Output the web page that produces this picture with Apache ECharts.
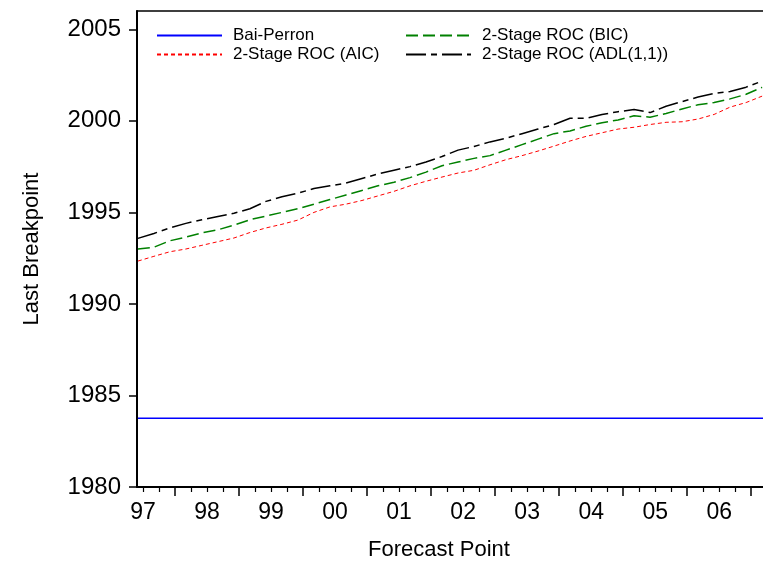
<!DOCTYPE html>
<html>
<head>
<meta charset="utf-8">
<title>Last Breakpoint</title>
<script src="https://cdn.jsdelivr.net/npm/echarts@6/dist/echarts.min.js"></script>
<style>
  html, body { margin: 0; padding: 0; background: #fff; }
  #chart { width: 763px; height: 576px; }
</style>
</head>
<body>
<div id="chart"></div>
<script>
// forecast points (decimal years, roughly quarterly)
const dates = [
  1997.42, 1997.67, 1997.92, 1998.17, 1998.42, 1998.67, 1998.92, 1999.17,
  1999.42, 1999.67, 1999.92, 2000.17, 2000.42, 2000.67, 2000.92, 2001.17,
  2001.42, 2001.67, 2001.92, 2002.17, 2002.42, 2002.67, 2002.92, 2003.17,
  2003.42, 2003.67, 2003.92, 2004.17, 2004.42, 2004.67, 2004.92, 2005.17,
  2005.42, 2005.67, 2005.92, 2006.17, 2006.42, 2006.67, 2006.92, 2007.17
];

const aicValues = [
  1992.34, 1992.60, 1992.85, 1993.00, 1993.20, 1993.40, 1993.60, 1993.90,
  1994.15, 1994.35, 1994.58, 1995.00, 1995.30, 1995.45, 1995.65, 1995.90,
  1996.15, 1996.45, 1996.70, 1996.93, 1997.15, 1997.30, 1997.60, 1997.88,
  1998.10, 1998.35, 1998.62, 1998.90, 1999.15, 1999.35, 1999.55, 1999.65,
  1999.80, 1999.92, 1999.95, 2000.10, 2000.35, 2000.75, 2001.00, 2001.35
];

const bicValues = [
  1993.00, 1993.10, 1993.45, 1993.65, 1993.88, 1994.05, 1994.30, 1994.60,
  1994.80, 1995.00, 1995.20, 1995.45, 1995.70, 1995.95, 1996.20, 1996.45,
  1996.65, 1996.90, 1997.20, 1997.55, 1997.75, 1997.95, 1998.10, 1998.40,
  1998.70, 1999.00, 1999.30, 1999.45, 1999.70, 1999.90, 2000.05, 2000.28,
  2000.20, 2000.40, 2000.65, 2000.88, 2001.00, 2001.20, 2001.45, 2001.83
];

const adlValues = [
  1993.58, 1993.85, 1994.15, 1994.40, 1994.60, 1994.78, 1994.95, 1995.20,
  1995.60, 1995.85, 1996.05, 1996.30, 1996.45, 1996.60, 1996.85, 1997.10,
  1997.30, 1997.50, 1997.75, 1998.05, 1998.40, 1998.60, 1998.85, 1999.05,
  1999.30, 1999.55, 1999.80, 2000.14, 2000.14, 2000.35, 2000.50, 2000.62,
  2000.45, 2000.80, 2001.05, 2001.30, 2001.50, 2001.60, 2001.84, 2002.17
];

// Bai-Perron breakpoint stays flat over the whole window
const bpDates = [1997.42, 2007.30];
const bpValues = [1983.75, 1983.75];

// axis ticks
const yearTicks = [1998, 1999, 2000, 2001, 2002, 2003, 2004, 2005, 2006, 2007];
const yearLabelPos = [1997.5, 1998.5, 1999.5, 2000.5, 2001.5, 2002.5, 2003.5, 2004.5, 2005.5, 2006.5];
const yearLabels = ['97', '98', '99', '00', '01', '02', '03', '04', '05', '06'];
const quarterTicks = [
  1997.5, 1997.75, 1998.25, 1998.5, 1998.75, 1999.25, 1999.5, 1999.75,
  2000.25, 2000.5, 2000.75, 2001.25, 2001.5, 2001.75, 2002.25, 2002.5, 2002.75,
  2003.25, 2003.5, 2003.75, 2004.25, 2004.5, 2004.75, 2005.25, 2005.5, 2005.75,
  2006.25, 2006.5, 2006.75, 2007.25
];

function pairs(xs, ys) {
  return xs.map((x, i) => [x, ys[i]]);
}

const FONT = "'Liberation Sans', Arial, Helvetica, sans-serif";
const xMin = 1997.406, xMax = 2007.34;

const chart = echarts.init(document.getElementById('chart'), null, { renderer: 'canvas' });

const legendText = { fontFamily: FONT, fontSize: 17, color: '#000', lineHeight: 17, padding: [0, 0, 0, 6] };

const option = {
  backgroundColor: '#fff',
  animation: false,
  textStyle: { fontFamily: FONT, color: '#000' },
  grid: {
    left: 137, width: 636, top: 11, height: 476,
    show: false, containLabel: false, outerBoundsMode: 'none'
  },
  legend: [
    {
      orient: 'vertical', left: 151, top: 22,
      itemWidth: 65, itemHeight: 12, itemGap: 2,
      itemStyle: { opacity: 0 },
      textStyle: legendText,
      data: ['Bai-Perron', '2-Stage ROC (AIC)']
    },
    {
      orient: 'vertical', left: 400, top: 22,
      itemWidth: 65, itemHeight: 12, itemGap: 2,
      itemStyle: { opacity: 0 },
      textStyle: legendText,
      data: ['2-Stage ROC (BIC)', '2-Stage ROC (ADL(1,1))']
    }
  ],
  xAxis: [
    {
      type: 'value', min: xMin, max: xMax, position: 'bottom',
      name: 'Forecast Point', nameLocation: 'middle', nameGap: 52,
      nameTextStyle: { fontFamily: FONT, fontSize: 22, color: '#000', padding: [0, 32, 0, 0] },
      axisLine: { show: true, lineStyle: { color: '#000', width: 2 } },
      axisTick: { show: true, length: 9, lineStyle: { color: '#000', width: 1.5 }, customValues: yearTicks },
      axisLabel: {
        show: true, fontFamily: FONT, fontSize: 23, color: '#000', margin: 14,
        customValues: yearLabelPos,
        formatter: v => yearLabels[yearLabelPos.indexOf(Math.round(v * 10) / 10)] || ''
      },
      splitLine: { show: false }
    },
    {
      type: 'value', min: xMin, max: xMax, position: 'bottom',
      axisLine: { show: false },
      axisTick: { show: true, length: 5, lineStyle: { color: '#000', width: 1.2 }, customValues: quarterTicks },
      axisLabel: { show: false },
      splitLine: { show: false }
    },
    {
      // top frame line only
      type: 'value', min: xMin, max: xMax, position: 'top',
      axisLine: { show: true, lineStyle: { color: '#000', width: 1.5 } },
      axisTick: { show: false },
      axisLabel: { show: false },
      splitLine: { show: false }
    }
  ],
  yAxis: {
    type: 'value', min: 1980, max: 2006, interval: 5,
    name: 'Last Breakpoint', nameLocation: 'middle', nameGap: 94,
    nameTextStyle: { fontFamily: FONT, fontSize: 22, color: '#000' },
    axisLine: { show: true, lineStyle: { color: '#000', width: 2 } },
    axisTick: { show: true, length: 8, lineStyle: { color: '#000', width: 1.5 } },
    axisLabel: { fontFamily: FONT, fontSize: 24, color: '#000', margin: 16, formatter: v => String(v) },
    splitLine: { show: false }
  },
  series: [
    {
      name: 'Bai-Perron', type: 'line', symbol: 'none',
      lineStyle: { color: '#0000ff', width: 1.5, type: 'solid' },
      itemStyle: { color: '#0000ff' },
      data: pairs(bpDates, bpValues)
    },
    {
      name: '2-Stage ROC (AIC)', type: 'line', symbol: 'none',
      lineStyle: { color: '#ff0000', width: 1, type: [4, 3] },
      itemStyle: { color: '#ff0000' },
      data: pairs(dates, aicValues)
    },
    {
      name: '2-Stage ROC (BIC)', type: 'line', symbol: 'none',
      lineStyle: { color: '#008000', width: 1.5, type: [12, 5] },
      itemStyle: { color: '#008000' },
      data: pairs(dates, bicValues)
    },
    {
      name: '2-Stage ROC (ADL(1,1))', type: 'line', symbol: 'none',
      lineStyle: { color: '#000000', width: 1.5, type: [20, 5, 6, 5] },
      itemStyle: { color: '#000000' },
      data: pairs(dates, adlValues)
    }
  ]
};

chart.setOption(option);
</script>
</body>
</html>
